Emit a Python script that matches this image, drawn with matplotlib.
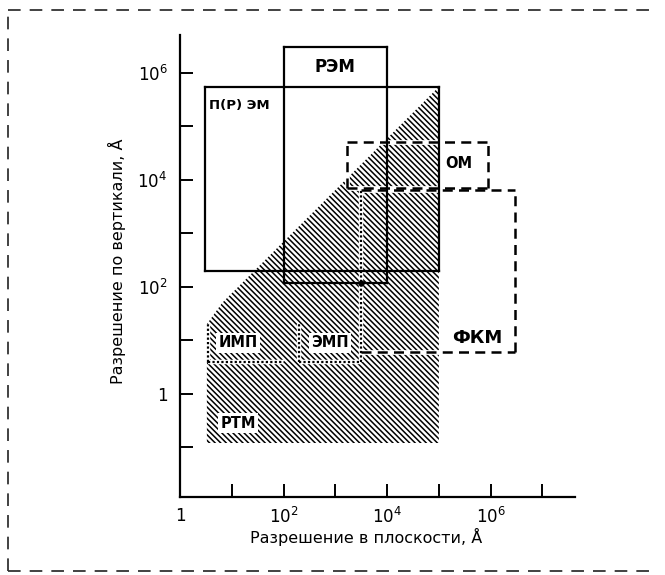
import numpy as np
import matplotlib
matplotlib.use("Agg")
import matplotlib.pyplot as plt
from matplotlib.lines import Line2D
from matplotlib.patches import Polygon

plt.rcParams['font.family'] = ['DejaVu Sans']
plt.rcParams['hatch.color'] = 'black'
plt.rcParams['hatch.linewidth'] = 1.1

# Resolution ranges of microscopy methods, Angstrom (lateral x, vertical y)
pem_x = [3, 1e5]          # П(Р)ЭМ
pem_y = [2e2, 5.5e5]
sem_x = [1e2, 1e4]        # РЭМ
sem_y = [1.2e2, 3e6]
om_x = [1.7e3, 9e5]       # ОМ
om_y = [7e3, 5e4]
fkm_x = [3.2e3, 3e6]      # ФКМ
fkm_y = [6, 6.5e3]
imp_x = [3.5, 1e2]        # ИМП
imp_y = [4, 20]
emp_x = [2e2, 3.2e3]      # ЭМП
emp_y = [4, 20]
rtm_x = [3.3, 1e5, 1e5, 6.5, 3.3]   # РТМ (hatched area)
rtm_y = [0.12, 0.12, 5.5e5, 50, 20]

x_major = [1, 1e2, 1e4, 1e6]
x_major_labels = ['1', '$10^2$', '$10^4$', '$10^6$']
x_minor = [1e1, 1e3, 1e5, 1e7]
y_major = [1, 1e2, 1e4, 1e6]
y_major_labels = ['1', '$10^2$', '$10^4$', '$10^6$']
y_minor = [1e-1, 1e1, 1e3, 1e5]

fig = plt.figure(figsize=(6.65, 5.75), dpi=100)
ax = fig.add_axes([0.2707, 0.1357, 0.594, 0.8035])
ax.set_xscale('log')
ax.set_yscale('log')
ax.set_xlim(1, 10**7.63)
ax.set_ylim(10**-1.93, 10**6.71)

for s in ['top', 'right']:
    ax.spines[s].set_visible(False)
for s in ['left', 'bottom']:
    ax.spines[s].set_linewidth(1.6)

ax.set_xticks(x_major)
ax.set_xticklabels(x_major_labels)
ax.set_xticks(x_minor, minor=True)
ax.set_xticklabels([], minor=True)
ax.set_yticks(y_major)
ax.set_yticklabels(y_major_labels)
ax.set_yticks(y_minor, minor=True)
ax.set_yticklabels([], minor=True)
ax.tick_params(which='both', direction='in', length=9.5, width=1.4, labelsize=12, pad=7)
ax.tick_params(axis='y', which='both', pad=9)

# hatched РТМ area
ax.add_patch(Polygon(list(zip(rtm_x, rtm_y)), closed=True, facecolor='white',
                     edgecolor='black', linewidth=0, hatch='\\\\\\\\\\\\', zorder=1))


def box_lines(xs, ys, sides='tblr'):
    x0, x1 = xs
    y0, y1 = ys
    segs = []
    if 't' in sides:
        segs.append(([x0, x1], [y1, y1]))
    if 'b' in sides:
        segs.append(([x0, x1], [y0, y0]))
    if 'l' in sides:
        segs.append(([x0, x0], [y0, y1]))
    if 'r' in sides:
        segs.append(([x1, x1], [y0, y1]))
    return segs


def draw(segs, style, lw, under=False, z=4):
    for sx, sy in segs:
        if under:
            ax.plot(sx, sy, color='white', lw=lw + 1.6, solid_capstyle='butt', zorder=z - 1)
        ax.plot(sx, sy, color='black', lw=lw, linestyle=style, zorder=z)


# dashed ОМ and ФКМ regions
draw(box_lines(om_x, om_y), (0, (4, 2.5)), 1.8, under=True, z=3)
draw(box_lines(fkm_x, fkm_y, 'tbr'), (0, (4, 2.5)), 1.8, under=True, z=3)

# dotted ИМП / ЭМП outlines inside the hatched area
draw(box_lines(imp_x, imp_y, 'bl'), (0, (1, 1)), 1.6, under=True, z=3)
draw(box_lines(emp_x, emp_y, 'bl'), (0, (1, 1)), 1.6, under=True, z=3)
draw([([emp_x[1], emp_x[1]], [emp_y[0], fkm_y[1]])], (0, (1, 1)), 1.6, under=True, z=3)

# solid electron microscope regions
draw(box_lines(pem_x, pem_y), '-', 1.6, z=5)
draw(box_lines(sem_x, sem_y), '-', 1.6, z=5)
ax.plot([emp_x[1]], [sem_y[0]], 'o', color='black', ms=3.5, zorder=6)

lab = dict(ha='center', va='center', fontweight='bold', zorder=7)
bg = dict(boxstyle='square,pad=0.15', facecolor='white', edgecolor='none')
ax.text(10**3.0, 10**6.12, 'РЭМ', fontsize=12, **lab)
ax.text(10**1.15, 10**5.4, 'П(Р) ЭМ', fontsize=9.5, **lab)
ax.text(10**5.38, 10**4.3, 'ОМ', fontsize=10.5, **lab)
ax.text(10**5.75, 10**1.05, 'ФКМ', fontsize=13, **lab)
ax.text(10**1.12, 10**0.95, 'ИМП', fontsize=10.5, bbox=bg, **lab)
ax.text(10**2.9, 10**0.95, 'ЭМП', fontsize=10.5, bbox=bg, **lab)
ax.text(10**1.12, 10**-0.55, 'РТМ', fontsize=10.5, bbox=bg, **lab)

ax.text(0.47, -0.087, 'Разрешение в плоскости, Å', transform=ax.transAxes,
        ha='center', va='center', fontsize=11.5)
ax.text(-0.16, 0.51, 'Разрешение по вертикали, Å', transform=ax.transAxes,
        ha='center', va='center', rotation=90, fontsize=11.5)

# dashed frame around the figure
frame = dict(color='#333333', lw=1.3, linestyle=(0, (7, 5)))
fig.add_artist(Line2D([0.012, 0.985], [0.9826, 0.9826], **frame))
fig.add_artist(Line2D([0.012, 0.012], [0.007, 0.9826], **frame))
fig.add_artist(Line2D([0.012, 0.985], [0.007, 0.007], **frame))

fig.savefig('out.png', dpi=100)
